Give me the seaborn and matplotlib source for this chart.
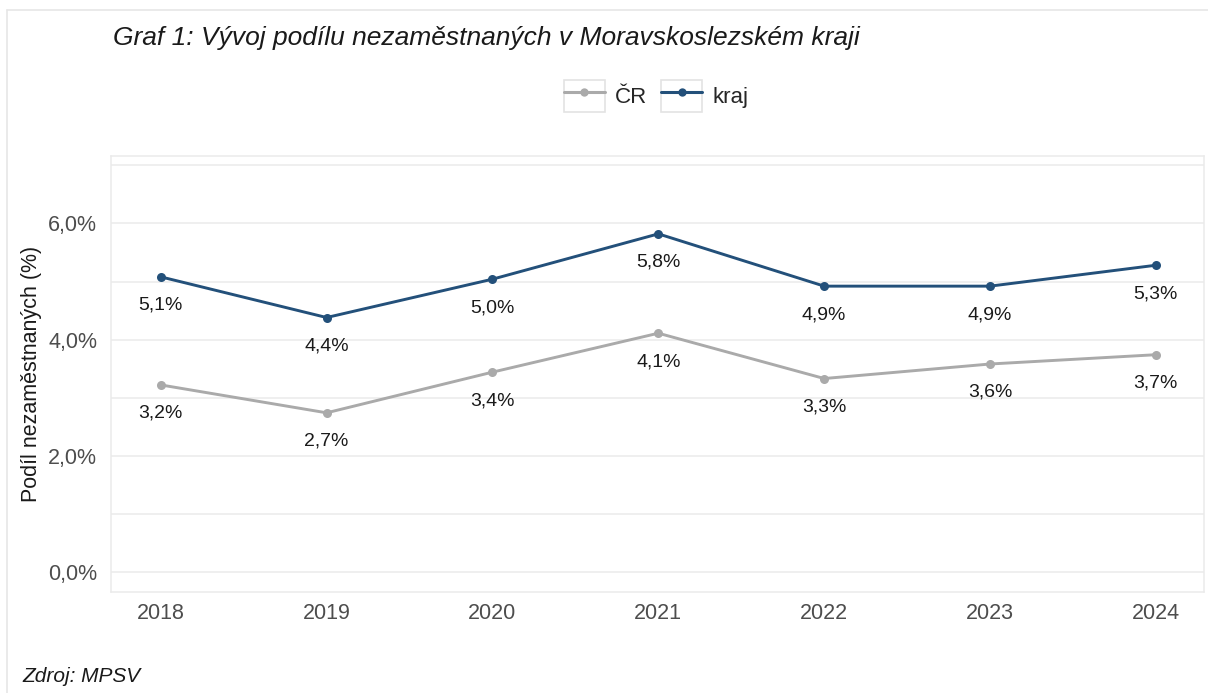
import pandas as pd
import matplotlib
matplotlib.use('Agg')
import matplotlib.pyplot as plt
from matplotlib.lines import Line2D
from matplotlib.patches import Rectangle
from matplotlib.legend_handler import HandlerLine2D
from matplotlib.ticker import FixedLocator, FuncFormatter
import seaborn as sns

# data
roky = [2018, 2019, 2020, 2021, 2022, 2023, 2024]
podil_cr = [3.22, 2.74, 3.44, 4.11, 3.33, 3.58, 3.74]
podil_kraj = [5.08, 4.38, 5.04, 5.82, 4.92, 4.92, 5.28]
serie = ['ČR', 'kraj']
barvy = {'ČR': '#aaaaaa', 'kraj': '#23507a'}

df = pd.concat([
    pd.DataFrame({'rok': roky, 'podil': podil_cr, 'serie': 'ČR'}),
    pd.DataFrame({'rok': roky, 'podil': podil_kraj, 'serie': 'kraj'}),
], ignore_index=True)

sns.set_theme(style='white')
plt.rcParams['font.family'] = ['Liberation Sans', 'DejaVu Sans']

fig = plt.figure(figsize=(12.08, 6.93), dpi=100)
ax = fig.add_axes([111 / 1208, 1 - 592 / 693, (1204 - 111) / 1208, (592 - 156) / 693])

sns.lineplot(data=df, x='rok', y='podil', hue='serie', hue_order=serie,
             palette=barvy, marker='o', markersize=6.5, markeredgewidth=0,
             linewidth=2.1, legend=False, ax=ax, zorder=3)

# labels under the points
for _, r in df.iterrows():
    ax.annotate(f"{r['podil']:.1f}%".replace('.', ','), (r['rok'], r['podil']),
                xytext=(0, -20.5), textcoords='offset points',
                ha='center', va='center', fontsize=14, color='#1a1a1a')

ax.set_xlim(roky[0] - 0.3, roky[-1] + 0.29)
ax.set_ylim(-0.344, 7.16)
ax.set_xticks(roky)
ax.yaxis.set_major_locator(FixedLocator([0, 2, 4, 6]))
ax.yaxis.set_minor_locator(FixedLocator([1, 3, 5, 7]))
ax.yaxis.set_major_formatter(FuncFormatter(lambda v, p: f"{v:.1f}%".replace('.', ',')))
ax.grid(axis='y', which='both', color='#ebebeb', linewidth=1.1)
ax.grid(axis='x', visible=False)
ax.set_axisbelow(True)
for s in ax.spines.values():
    s.set_color('#ebebeb')
    s.set_linewidth(1.1)
ax.tick_params(axis='both', which='both', length=0, labelsize=15.5, labelcolor='#4d4d4d')
ax.tick_params(axis='y', pad=10)
ax.tick_params(axis='x', pad=8)
ax.set_xlabel('')
ax.set_ylabel('Podíl nezaměstnaných (%)', fontsize=15.5, color='#1a1a1a', labelpad=4)


class BoxedLine(HandlerLine2D):
    def create_artists(self, legend, orig_handle, xdescent, ydescent,
                       width, height, fontsize, trans):
        arts = super().create_artists(legend, orig_handle, xdescent, ydescent,
                                      width, height, fontsize, trans)
        box = Rectangle((-xdescent, -ydescent), width, height, fc='none',
                        ec='#e3e3e3', lw=1.2, transform=trans)
        return [box] + arts


handles = [Line2D([], [], color=barvy[s], marker='o', markersize=6,
                  markeredgewidth=0, linewidth=2.2) for s in serie]
fig.legend(handles, serie, loc='center', bbox_to_anchor=(656 / 1208, 1 - 96 / 693),
           ncol=2, frameon=False, fontsize=16, handlelength=1.85, handleheight=1.85,
           handletextpad=0.45, columnspacing=0.65,
           handler_map={Line2D: BoxedLine(marker_pad=0.0)})

fig.text(113 / 1208, 1 - 38 / 693, 'Graf 1: Vývoj podílu nezaměstnaných v Moravskoslezském kraji',
         fontsize=19, style='italic', color='#1a1a1a', ha='left', va='center')
fig.text(22 / 1208, 1 - 677 / 693, 'Zdroj: MPSV', fontsize=15, style='italic',
         color='#1a1a1a', ha='left', va='center')

# outer frame (left and top edges visible)
fig.add_artist(Line2D([7 / 1208, 7 / 1208], [0, 1 - 10 / 693], color='#e6e6e6', lw=1.2))
fig.add_artist(Line2D([7 / 1208, 1], [1 - 10 / 693, 1 - 10 / 693], color='#e6e6e6', lw=1.2))

fig.savefig('out.png', dpi=100)
